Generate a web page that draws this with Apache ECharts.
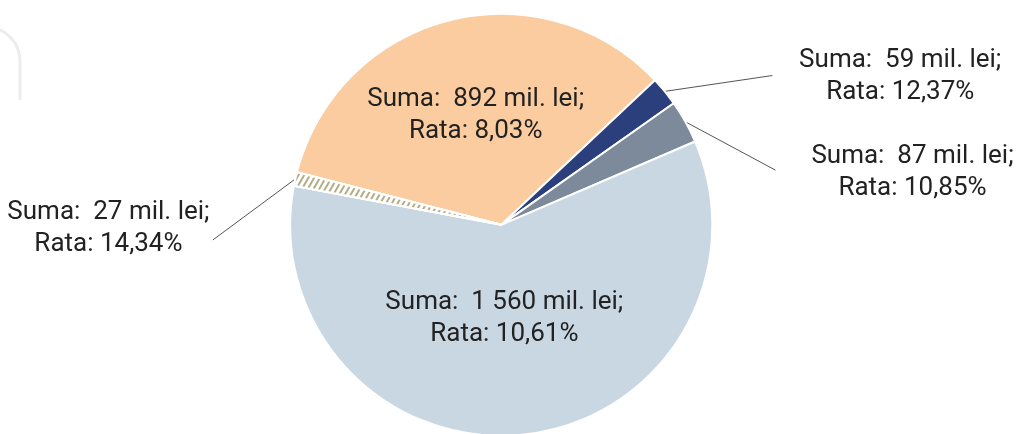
<!DOCTYPE html>
<html>
<head>
<meta charset="utf-8">
<script src="https://cdn.jsdelivr.net/npm/echarts@6/dist/echarts.min.js"></script>
<style>
  html, body { margin: 0; padding: 0; background: #fff; }
  #Echarts1 { width: 1023px; height: 434px; }
</style>
</head>
<body>
<div id="Echarts1"></div>
<script>
'use strict';
// date
var sume = [892, 59, 87, 1560, 27];          // mil. lei
var rate = ['8,03', '12,37', '10,85', '10,61', '14,34'];

// stil
var culori = ['#fbcca0', '#2c3f7d', '#7d8a9b', '#c9d7e3', '#ffffff'];
var interior = [true, false, false, true, false];
// pozitia etichetelor (fractii din latime / inaltime)
var labelPos = [[0.465, 0.267], [0.880, 0.176], [0.892, 0.398], [0.493, 0.733], [0.106, 0.527]];
// capatul liniei de legatura
var lineEnd = [null, [0.755, 0.174], [0.758, 0.392], null, [0.208, 0.553]];

var myChart1 = echarts.init(document.getElementById('Echarts1'));

function fmt(v) {
    return String(v).replace(/\B(?=(\d{3})+(?!\d))/g, ' ');
}

var seriesData = sume.map(function (v, i) {
    var item = {
        value: v,
        itemStyle: { color: culori[i] },
        label: { position: interior[i] ? 'inside' : 'outside' },
        labelLine: { show: !interior[i] }
    };
    if (i === 4) {
        item.itemStyle.decal = {
            symbol: 'rect',
            symbolSize: 1,
            dashArrayX: [1, 0],
            dashArrayY: [1.5, 2.2],
            rotation: -Math.PI / 3,
            color: '#b3ad86',
            backgroundColor: '#ffffff'
        };
    }
    return item;
});

var W = 1023, H = 434;

var option = {
    backgroundColor: '#fff',
    animation: false,
    graphic: [{
        type: 'bezierCurve',
        shape: { x1: -4, y1: 28, x2: 20, y2: 62, cpx1: 20, cpy1: 38 },
        style: { fill: null, stroke: '#ececec', lineWidth: 3 }
    }, {
        type: 'line',
        shape: { x1: 20, y1: 62, x2: 20, y2: 100 },
        style: { stroke: '#ececec', lineWidth: 3 }
    }],
    series: [{
        type: 'pie',
        center: ['49%', '51.8%'],
        radius: 211,
        startAngle: 165.6,
        clockwise: true,
        avoidLabelOverlap: false,
        itemStyle: { borderColor: '#fff', borderWidth: 2 },
        label: {
            show: true,
            color: '#222',
            fontFamily: 'Roboto',
            fontSize: 26,
            lineHeight: 32,
            align: 'center',
            formatter: function (p) {
                var i = p.dataIndex;
                return 'Suma:  ' + fmt(sume[i]) + ' mil. lei;\nRata: ' + rate[i] + '%';
            }
        },
        labelLine: {
            show: true,
            length: 10,
            length2: 10,
            lineStyle: { color: '#555', width: 1 }
        },
        labelLayout: function (params) {
            var i = params.dataIndex;
            var x = labelPos[i][0] * W, y = labelPos[i][1] * H;
            var res = { x: x, y: y, align: 'center', verticalAlign: 'middle' };
            if (lineEnd[i] && params.labelLinePoints) {
                var p0 = params.labelLinePoints[0];
                var end = [lineEnd[i][0] * W, lineEnd[i][1] * H];
                res.labelLinePoints = [p0, p0, end];
            }
            return res;
        },
        data: seriesData
    }]
};
myChart1.setOption(option);
</script>
</body>
</html>
